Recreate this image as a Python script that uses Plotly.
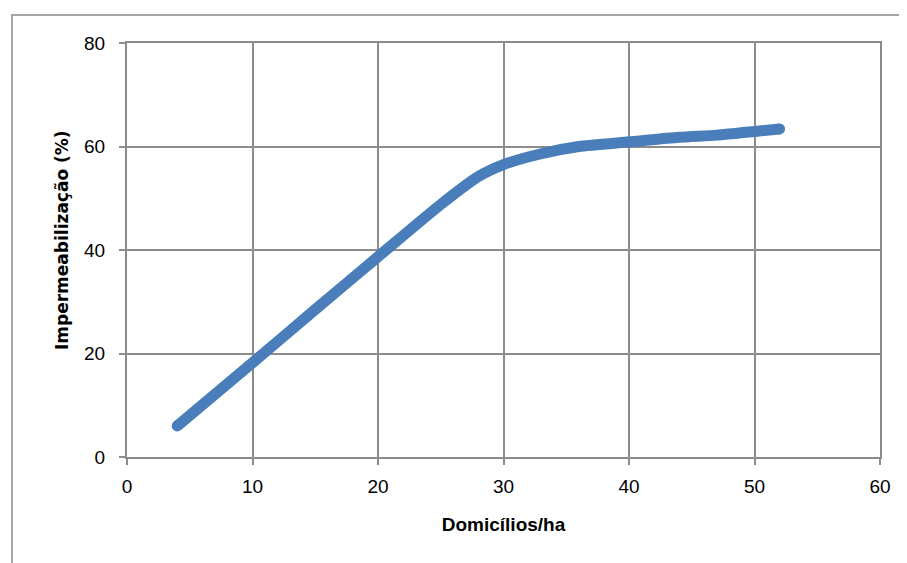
import plotly.graph_objects as go

domicilios = [4, 10, 15, 20, 25, 28, 30, 33, 36, 40, 44, 47, 50, 52]
impermeab = [6, 18.2, 28.5, 38.7, 48.8, 54.2, 56.5, 58.6, 60.0, 60.9, 61.8, 62.2, 62.9, 63.4]

x_ticks = [0, 10, 20, 30, 40, 50, 60]
y_ticks = [0, 20, 40, 60, 80]

blue = "#4A7EBB"
grid = "#8C8C8C"

fig = go.Figure()
fig.add_trace(go.Scatter(x=domicilios, y=impermeab, mode="lines",
                         line=dict(color=blue, width=11, shape="spline", smoothing=0.6),
                         showlegend=False, hoverinfo="skip"))
fig.add_trace(go.Scatter(x=[domicilios[0], domicilios[-1]], y=[impermeab[0], impermeab[-1]],
                         mode="markers", marker=dict(color=blue, size=11, line=dict(width=0)),
                         showlegend=False, hoverinfo="skip"))

tickfont = dict(family="Liberation Sans Narrow, Arial Narrow, Liberation Sans, sans-serif", size=19, color="#000000")

# page has an 8px body offset; plot area should be at x 127..880, y 43..457 on screen
L, T, W, H = 119, 35, 753, 414
fig.update_layout(
    width=907, height=563,
    margin=dict(l=L, r=907 - L - W, t=T, b=563 - T - H),
    paper_bgcolor="white", plot_bgcolor="white",
    xaxis=dict(range=[0, 60], tickvals=x_ticks, showgrid=True, gridcolor=grid, gridwidth=2,
               showline=True, linecolor=grid, linewidth=2, mirror=True,
               ticks="outside", ticklen=6, tickcolor=grid, tickwidth=2,
               tickfont=tickfont, zeroline=False, ticklabelstandoff=5,
               title=dict(text="<b>Domicílios/ha</b>", standoff=22,
                          font=dict(family="Liberation Sans Narrow, Arial Narrow, Liberation Sans, sans-serif", size=19, color="#000"))),
    yaxis=dict(range=[0, 80], tickvals=y_ticks, showgrid=True, gridcolor=grid, gridwidth=2,
               showline=True, linecolor=grid, linewidth=2, mirror=True,
               ticks="outside", ticklen=6, tickcolor=grid, tickwidth=2,
               tickfont=tickfont, zeroline=False, ticklabelstandoff=10),
    annotations=[dict(text="<b>Impermeabilização (%)</b>", textangle=-90, showarrow=False,
                      xref="paper", yref="paper", x=(62 - 127) / 753, y=(457 - 240) / 414,
                      xanchor="center", yanchor="middle",
                      font=dict(family="DejaVu Sans, sans-serif", size=17, color="#000"))],
    shapes=[dict(type="rect", xref="paper", yref="paper",
                 x0=(12 - 127) / 753, x1=(903 - 127) / 753,
                 y0=(457 - 600) / 414, y1=(457 - 15) / 414,
                 line=dict(color="#A6A6A6", width=2), layer="below")],
)

fig.write_html("out.html")
